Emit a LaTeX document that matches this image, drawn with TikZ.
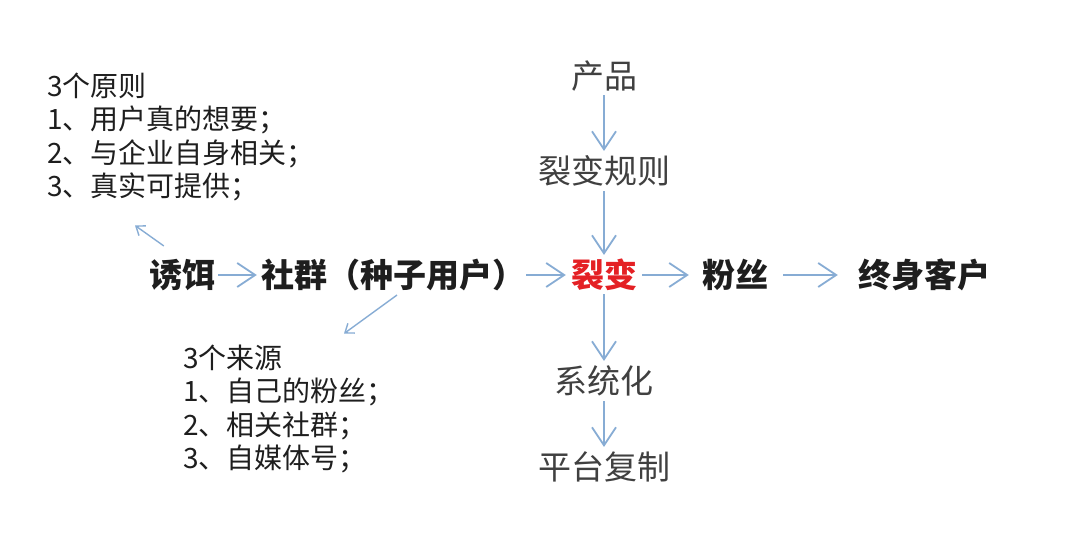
\documentclass[tikz,border=0pt]{standalone}
\usepackage{fontspec}
\setmainfont{Noto Sans CJK SC}
\usetikzlibrary{arrows.meta,positioning}
\definecolor{arrowblue}{RGB}{135,172,212}
\definecolor{fissionred}{RGB}{228,32,36}
\definecolor{inkgray}{RGB}{30,30,30}

\begin{document}
\begin{tikzpicture}[
  x=1pt, y=1pt,
  on grid,
  main/.style={font=\fontsize{33}{36}\selectfont\bfseries, text=inkgray,
               inner sep=0pt, text height=27.4pt, text depth=2.3pt},
  chain/.style={font=\fontsize{33}{36}\selectfont, text=inkgray!85,
                inner sep=0pt, text height=27.4pt, text depth=2.3pt},
  note/.style={font=\fontsize{28}{33.5}\selectfont, text=inkgray,
               align=left, inner sep=0pt, anchor=north west},
  a/.style={draw=arrowblue, line width=1.8pt,
            -{Straight Barb[length=18pt, width=24pt, line width=1.8pt]}},
  sa/.style={draw=arrowblue, line width=1.4pt,
             -{Straight Barb[length=8pt, width=12pt, line width=1.4pt]}}
]
\useasboundingbox (0,0) rectangle (1080,540);

% ---------------- main row ----------------
\node[main, text=fissionred] (fission) at (604,265) {裂变};
\node[main, left=211pt of fission] (community) {社群（种子用户）};
\node[main, left=211pt of community] (bait) {诱饵};
\node[main, right=131pt of fission] (fans) {粉丝};
\node[main, right=189pt of fans] (lifelong) {终身客户};

% ---------------- vertical chain ----------------
\node[chain, above=104pt of fission] (rules) {裂变规则};
\node[chain, above=95pt of rules] (product) {产品};
\node[chain, below=106pt of fission] (system) {系统化};
\node[chain, below=86pt of system] (replicate) {平台复制};

% ---------------- notes ----------------
\node[note] (principles) at (47,467.5)
  {3个原则\\ 1、用户真的想要；\\ 2、与企业自身相关；\\ 3、真实可提供；};
\node[note] (sources) at (183,195.4)
  {3个来源\\ 1、自己的粉丝；\\ 2、相关社群；\\ 3、自媒体号；};

% ---------------- arrows ----------------
\draw[a, shorten <=3pt, shorten >=4pt] (bait) -- (community);
\draw[a, shorten <=1pt, shorten >=5pt] (community) -- (fission);
\draw[a, shorten <=5pt, shorten >=13pt] (fission) -- (fans);
\draw[a, shorten <=15pt, shorten >=20pt] (fans) -- (lifelong);
\draw[a, shorten <=4pt, shorten >=5pt] (product) -- (rules);
\draw[a, shorten <=5pt, shorten >=5pt] (rules) -- (fission);
\draw[a, shorten <=4pt, shorten >=5pt] (fission) -- (system);
\draw[a, shorten <=5pt, shorten >=5pt] (system) -- (replicate);
\draw[sa] ([shift={(15pt,14pt)}]bait.north west)
  -- ([shift={(88pt,-24pt)}]principles.south west);
\draw[sa] ([shift={(4pt,-5pt)}]community.south)
  -- ([shift={(161pt,11pt)}]sources.north west);
\end{tikzpicture}
\end{document}
